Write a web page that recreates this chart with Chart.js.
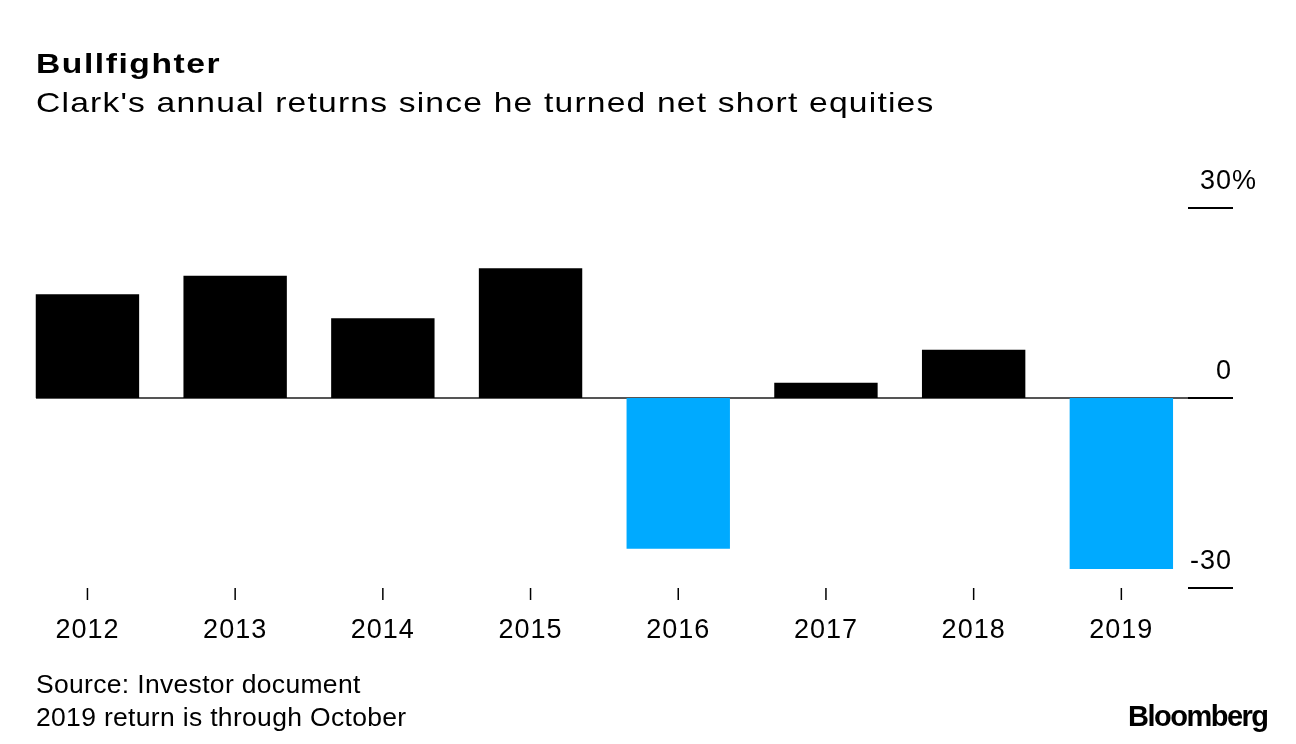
<!DOCTYPE html>
<html>
<head>
<meta charset="utf-8">
<script src="https://cdn.jsdelivr.net/npm/chart.js@4/dist/chart.umd.min.js"></script>
<style>
  html, body { margin: 0; padding: 0; background: #fff; }
  body { width: 1296px; height: 744px; position: relative; overflow: hidden;
         font-family: "Liberation Sans", Arial, sans-serif; color: #000; }
  #chart { position: absolute; left: 0; top: 0; width: 1296px; height: 744px; }
  .txt { position: absolute; white-space: nowrap; line-height: 1; transform-origin: 0 0; }
  #title { left: 36px; top: 50px; font-size: 28px; font-weight: bold; letter-spacing: 1.3px; transform: scaleX(1.2); }
  #sub { left: 36px; top: 89px; font-size: 28px; letter-spacing: 1px; transform: scaleX(1.2); }
  #src { left: 36px; top: 668px; font-size: 25px; line-height: 33px; letter-spacing: 0.3px; transform: scaleX(1.06); }
  #logo { left: 1128px; top: 702px; font-size: 29px; font-weight: bold; letter-spacing: -1.5px; }
</style>
</head>
<body>
<canvas id="chart" width="1296" height="744"></canvas>
<div class="txt" id="title">Bullfighter</div>
<div class="txt" id="sub">Clark's annual returns since he turned net short equities</div>
<div class="txt" id="src">Source: Investor document<br>2019 return is through October</div>
<div class="txt" id="logo">Bloomberg</div>
<script>
const years = ["2012", "2013", "2014", "2015", "2016", "2017", "2018", "2019"];
const returns = [16.4, 19.3, 12.6, 20.5, -23.8, 2.4, 7.6, -27.0];
const yTicks = [30, 0, -30];
const yTickLabels = ["30", "0", "-30"];

const black = '#000000';
const blue = '#00aaff';
const barColors = returns.map(v => v < 0 ? blue : black);

// zero line, right-hand axis and year labels
const axisPlugin = {
  id: 'axisPlugin',
  beforeDatasetsDraw(chart) {
    const ctx = chart.ctx;
    const y = chart.scales.y;
    ctx.save();
    ctx.strokeStyle = '#555';
    ctx.lineWidth = 2;
    ctx.beginPath();
    ctx.moveTo(36, y.getPixelForValue(0));
    ctx.lineTo(1233, y.getPixelForValue(0));
    ctx.stroke();
    ctx.restore();
  },
  afterDraw(chart) {
    const ctx = chart.ctx;
    const x = chart.scales.x;
    const y = chart.scales.y;
    ctx.save();
    ctx.fillStyle = '#000';
    ctx.strokeStyle = '#000';
    ctx.font = '27px "Liberation Sans", Arial, sans-serif';
    ctx.letterSpacing = '1px';
    ctx.textBaseline = 'alphabetic';
    yTicks.forEach((v, i) => {
      const py = y.getPixelForValue(v);
      ctx.lineWidth = 2;
      ctx.beginPath();
      ctx.moveTo(1188, py);
      ctx.lineTo(1233, py);
      ctx.stroke();
      ctx.textAlign = 'right';
      ctx.fillText(yTickLabels[i], 1232, py - 19);
      if (i === 0) {
        ctx.textAlign = 'left';
        ctx.fillText('%', 1232, py - 19);
      }
    });
    const bottom = y.getPixelForValue(-30);
    ctx.textAlign = 'center';
    years.forEach((yr, i) => {
      const px = x.getPixelForValue(i);
      ctx.lineWidth = 1.5;
      ctx.beginPath();
      ctx.moveTo(px, bottom);
      ctx.lineTo(px, bottom + 12);
      ctx.stroke();
      ctx.fillText(yr, px, bottom + 50);
    });
    ctx.restore();
  }
};

new Chart(document.getElementById('chart'), {
  type: 'bar',
  data: {
    labels: years,
    datasets: [{
      data: returns,
      backgroundColor: barColors,
      borderWidth: 0,
      categoryPercentage: 1.0,
      barPercentage: 0.7
    }]
  },
  options: {
    responsive: false,
    animation: false,
    devicePixelRatio: 1,
    layout: { padding: { left: 13.6, right: 100.8, top: 208, bottom: 156 } },
    plugins: { legend: { display: false }, tooltip: { enabled: false } },
    scales: {
      x: { display: false },
      y: { display: false, min: -30, max: 30 }
    }
  },
  plugins: [axisPlugin]
});
</script>
</body>
</html>
